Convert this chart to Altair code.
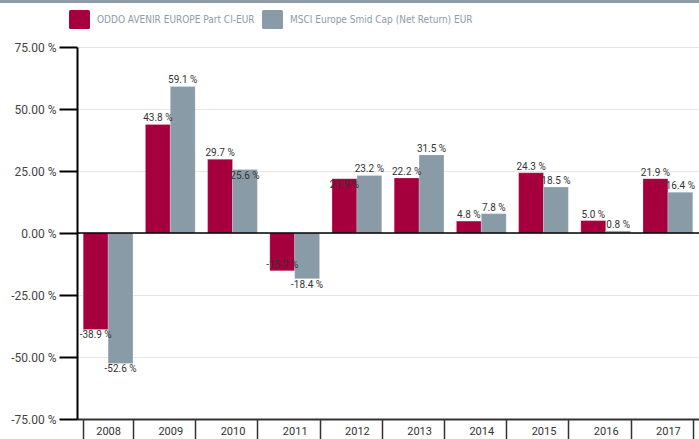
import altair as alt
import pandas as pd

years = ["2008", "2009", "2010", "2011", "2012", "2013", "2014", "2015", "2016", "2017"]
oddo = [-38.9, 43.8, 29.7, -15.2, 21.9, 22.2, 4.8, 24.3, 5.0, 21.9]
msci = [-52.6, 59.1, 25.6, -18.4, 23.2, 31.5, 7.8, 18.5, 0.8, 16.4]
series_names = ["ODDO AVENIR EUROPE Part CI-EUR", "MSCI Europe Smid Cap (Net Return) EUR"]
colors = ["#A5003D", "#8A9BA8"]
y_ticks = [-75, -50, -25, 0, 25, 50, 75]

FONT = "DejaVu Sans Condensed"
FONT2 = "Roboto"

rows = []
for i, yr in enumerate(years):
    a, b = oddo[i], msci[i]
    clash = (a * b > 0) and abs(a - b) < 5 and min(abs(a), abs(b)) >= 10
    for j, (name, v) in enumerate(zip(series_names, (a, b))):
        inside = clash and abs(v) == min(abs(a), abs(b))
        above = (v >= 0) != inside
        rows.append(dict(year=yr, series=name, order=j, value=v, above=above))
df = pd.DataFrame(rows)

W, H = 622, 372

x_enc = alt.X("year:N", sort=years, title=None,
              scale=alt.Scale(paddingInner=0.2, paddingOuter=0.1),
              axis=alt.Axis(labelAngle=0, domainColor="#333333", domainWidth=2,
                            tickBand="extent", tickSize=20, tickColor="#333333",
                            tickWidth=1.5, labelPadding=-14, labelFontSize=11,
                            labelColor="#333333", labelFont=FONT2, grid=False))
xo_enc = alt.XOffset("series:N", sort=series_names, scale=alt.Scale(paddingInner=0, paddingOuter=0))
y_scale = alt.Scale(domain=[-75, 75], nice=False)

base = alt.Chart(df)

legend_shape = ("M-1,-0.75Q-1,-0.9,-0.85,-0.9L0.85,-0.9Q1,-0.9,1,-0.75L1,0.75"
                "Q1,0.9,0.85,0.9L-0.85,0.9Q-1,0.9,-1,0.75Z")

bars = base.mark_bar(stroke="white", strokeWidth=0.5, strokeOpacity=0.4).encode(
    x=x_enc,
    xOffset=xo_enc,
    y=alt.Y("value:Q", scale=y_scale, title=None,
            axis=alt.Axis(values=y_ticks,
                          labelExpr="replace(format(datum.value, '.2f'), '\u2212', '-') + ' %'",
                          domainColor="black", domainWidth=2, tickColor="black",
                          tickWidth=2, tickSize=18, labelPadding=3, gridColor="#e6e6e6",
                          labelColor="#444444", labelFontSize=12, labelFont=FONT2)),
    color=alt.Color("series:N", sort=series_names,
                    scale=alt.Scale(domain=series_names, range=colors),
                    legend=alt.Legend(orient="none", legendX=-8, legendY=-38,
                                      direction="horizontal", title=None,
                                      symbolType=legend_shape, symbolSize=440,
                                      symbolStrokeWidth=0, symbolOpacity=1,
                                      labelColor="#8E9BA5", labelFontSize=10,
                                      labelFont=FONT, labelLimit=0, columnPadding=7,
                                      labelOffset=7)),
)

zero = alt.Chart(alt.Data(values=[{"v": 0}])).mark_rule(color="black", strokeWidth=1.5).encode(
    y=alt.Y("v:Q", scale=y_scale)
)

lab = base.transform_calculate(
    txt="replace(format(datum.value, '.1f'), '\u2212', '-') + ' %'")
above = lab.transform_filter("datum.above").mark_text(
    baseline="bottom", dy=-1, fontSize=10, color="#333333", font=FONT2
).encode(x=x_enc, xOffset=xo_enc, y=alt.Y("value:Q", scale=y_scale), text="txt:N")
below = lab.transform_filter("!datum.above").mark_text(
    baseline="top", dy=1, fontSize=10, color="#333333", font=FONT2
).encode(x=x_enc, xOffset=xo_enc, y=alt.Y("value:Q", scale=y_scale), text="txt:N")

strip = alt.Chart(alt.Data(values=[{"a": 1}])).mark_rect(color="#8C9CA8").encode(
    x=alt.value(-77), x2=alt.value(W + 10), y=alt.value(-47), y2=alt.value(-44)
)

chart = alt.layer(bars, zero, above, below, strip).properties(
    width=W, height=H,
    padding={"left": 77, "top": 47, "right": 0, "bottom": 20},
    autosize=alt.AutoSizeParams(type="none"),
).configure_view(stroke=None)

chart.save("out.html", embed_options={"renderer": "svg", "actions": False})
